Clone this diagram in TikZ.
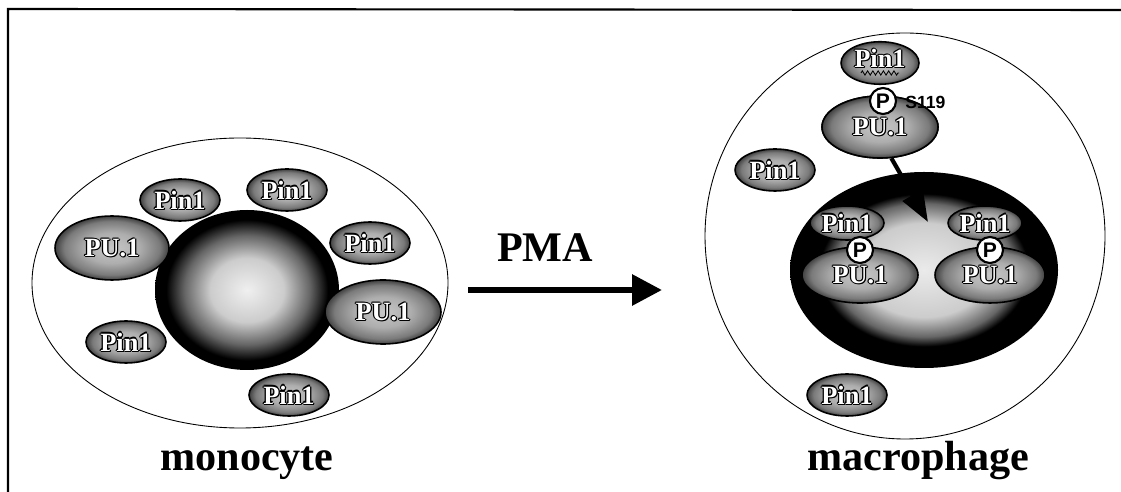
\documentclass[tikz,border=0pt]{standalone}
\usepackage{fontspec}
\setmainfont{Liberation Serif}
\newfontfamily\arial{Liberation Sans}
\usetikzlibrary{shapes.geometric,arrows.meta,decorations.pathmorphing}

% one unit of the picture
\newdimen\px \px=0.02cm

% grainy grey of the proteins, and the two nuclei
\pgfdeclareradialshading{protshade}{\pgfpoint{0bp}{0bp}}{color(0bp)=(black!22); color(12bp)=(black!32); color(21bp)=(black!52); color(25bp)=(black!75); color(50bp)=(black!75)}
\pgfdeclareradialshading{monoshade}{\pgfpoint{0bp}{0bp}}{color(0bp)=(black!6); color(10bp)=(black!20); color(17bp)=(black!60); color(22bp)=(black); color(50bp)=(black)}
\pgfdeclareradialshading{macroshade}{\pgfpoint{0bp}{0bp}}{color(0bp)=(black!8); color(12bp)=(black!20); color(17bp)=(black!60); color(19.5bp)=(black); color(50bp)=(black)}

% white letters with a dark rim
\newcommand\halo[1]{\leavevmode
  \rlap{\kern-.7pt\textcolor{black}{#1}}\rlap{\kern.7pt\textcolor{black}{#1}}%
  \rlap{\raisebox{.7pt}{\textcolor{black}{#1}}}\rlap{\raisebox{-.7pt}{\textcolor{black}{#1}}}%
  \rlap{\kern-.5pt\raisebox{.5pt}{\textcolor{black}{#1}}}\rlap{\kern.5pt\raisebox{-.5pt}{\textcolor{black}{#1}}}%
  \textcolor{white}{#1}}

\begin{document}
\begin{tikzpicture}[x=0.02cm, y=-0.02cm,
    cell/.style={ellipse, draw, line width=0.5pt, fill=white, inner sep=0pt},
    nucleus/.style={ellipse, inner sep=0pt},
    prot/.style={ellipse, draw, line width=0.9pt, shading=protshade, inner sep=0pt,
      font=\fontsize{15}{15}\selectfont\bfseries},
    pin/.style={prot, minimum width=80\px, minimum height=42\px},
    pu/.style={prot, minimum width=116\px, minimum height=62\px},
    phos/.style={circle, draw, line width=1.2pt, fill=white, minimum size=26\px, inner sep=0pt,
      font=\arial\bfseries\fontsize{12}{12}\selectfont},
    celltext/.style={anchor=base, inner sep=0pt, font=\fontsize{24}{24}\selectfont\bfseries}]
  \useasboundingbox (0,0) rectangle (1121,492);
  \draw[line width=1.2pt] (8,492) -- (8,9) -- (1121,10);

  % monocyte
  \node[cell, minimum width=416\px, minimum height=290\px] (mono) at (240,283) {};
  \node[nucleus, shading=monoshade, minimum width=184\px, minimum height=160\px] (mnuc) at (247,290) {};
  \foreach \pos/\nm in {{(180,200)}/mpin1, {(287,190)}/mpin2, {(370,243)}/mpin3,
                        {(126,342)}/mpin4, {(289,395)}/mpin5}{
    \node[pin] (\nm) at \pos {\halo{Pin1}};
  }
  \node[pu, minimum width=114\px, minimum height=64\px] (mpu1) at (112,248) {\halo{PU.1}};
  \node[pu, minimum height=64\px] (mpu2) at (383,312) {\halo{PU.1}};
  \node[celltext] (monolab) at (247,471) {monocyte};

  % PMA treatment
  \node[celltext] (pmalab) at (545,262) {PMA};
  \coordinate (pmafrom) at (468,290);
  \coordinate (pmato) at (662,290);
  \draw[line width=3.5pt, -{Triangle[length=0.6cm, width=0.6cm]}] (pmafrom) -- (pmato);

  % macrophage
  \node[cell, minimum width=400\px, minimum height=406\px] (macro) at (905,236) {};
  \node[nucleus, shading=macroshade, minimum width=268\px, minimum height=196\px] (xnuc) at (924,270) {};
  \node[pu] (tpu) at (880,127) {\halo{PU.1}};
  \coordinate (tip) at (928,222);
  \draw[line width=2.4pt, -{Triangle[length=0.62cm, width=0.45cm]}] (tpu.-70) -- (tip);
  \node[pu] at (880,127) {\halo{PU.1}};
  \node[pin, minimum width=78\px, minimum height=38\px] (tpin) at (880,63) {\raisebox{6pt}{\halo{Pin1}}};
  \draw[line width=0.5pt, decorate, decoration={zigzag, amplitude=1.2pt, segment length=3pt}]
    (tpin.center) ++(-19,10) -- ++(38,0);
  \node[phos] (tp) at (883,101) {P};
  \node[anchor=west, inner sep=0pt, font=\arial\bfseries\fontsize{10}{10}\selectfont] (site) at (905,102) {S119};

  \node[pin] (fpin1) at (775,170) {\halo{Pin1}};
  \node[pin] (fpin2) at (847,395) {\halo{Pin1}};

  \node[pin, minimum width=74\px, minimum height=34\px] (npin1) at (847,223) {\halo{Pin1}};
  \node[pin, minimum width=74\px, minimum height=34\px] (npin2) at (985,223) {\halo{Pin1}};
  \node[pu, minimum height=56\px] (npu1) at (860,275) {\halo{PU.1}};
  \node[pu, minimum width=110\px, minimum height=56\px] (npu2) at (990,275) {\halo{PU.1}};
  \node[phos] (np1) at (860,250) {P};
  \node[phos] (np2) at (990,250) {P};
  \node[celltext] (macrolab) at (918,471) {macrophage};
\end{tikzpicture}
\end{document}
